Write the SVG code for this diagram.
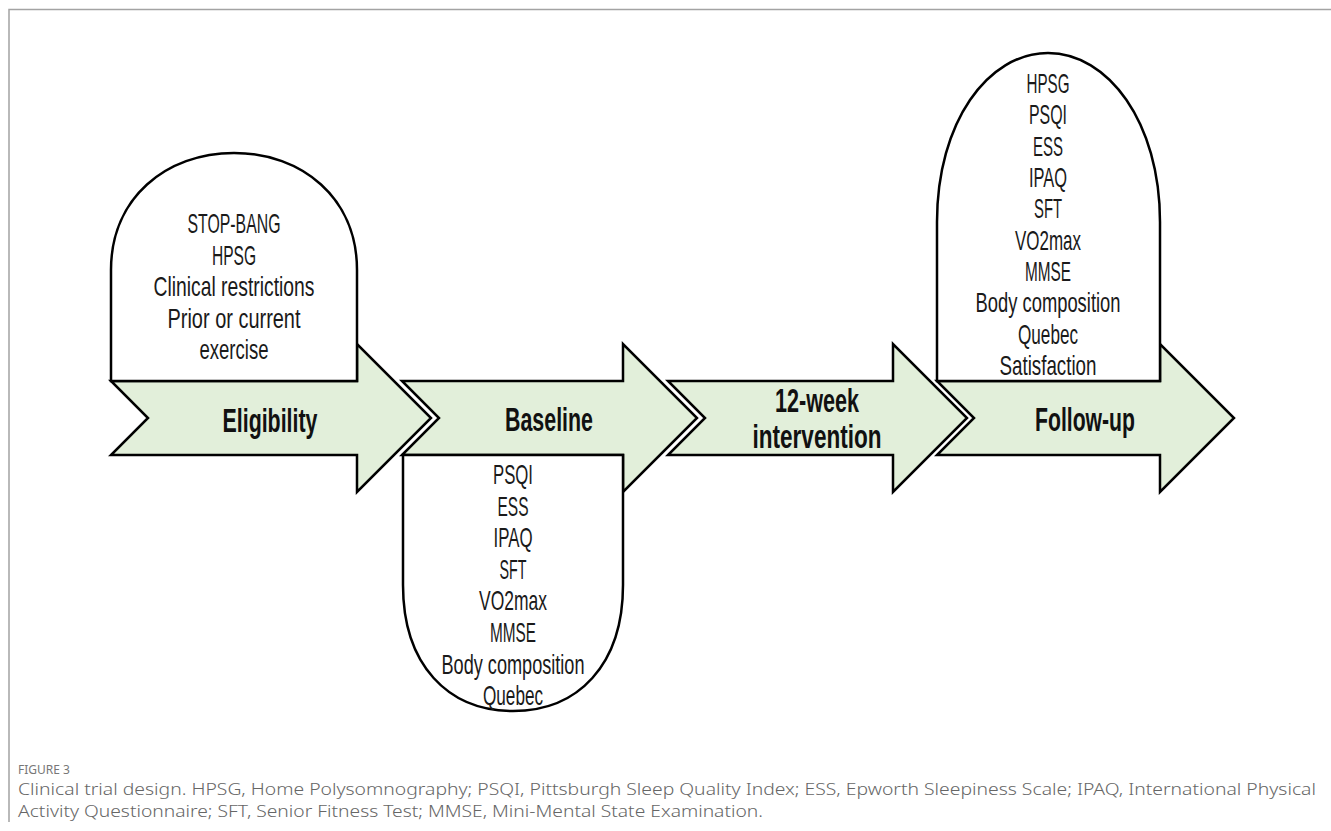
<svg xmlns="http://www.w3.org/2000/svg" width="1331" height="831" viewBox="0 0 1331 831">
<style>
.frame{fill:none;stroke:#a3a3a3;stroke-width:1.5}
.arrow{fill:#e2efda;stroke:#000;stroke-width:2.5;stroke-linejoin:miter}
.box{fill:#fff;stroke:#000;stroke-width:2.5}
.item{font-family:"Liberation Sans",Arial,sans-serif;font-size:27.5px;fill:#1a1a1a;text-anchor:middle}
.label{font-family:"Liberation Sans",Arial,sans-serif;font-size:33px;font-weight:bold;fill:#111;text-anchor:middle}
.fig{font-family:"Noto Sans","Open Sans",sans-serif;font-size:12px;fill:#777}
.cap{font-family:"Noto Sans","Open Sans",sans-serif;font-size:15.5px;font-weight:300;fill:#666}
</style>
<rect width="1331" height="831" fill="#fff"/>
<path class="frame" d="M9,822 L9,9.5 L1331,9.5"/>

<g id="connectors">
  <path id="arrow-eligibility" class="arrow" d="M111,381 L357,381 L357,344 L431,418 L357,492 L357,455 L111,455 L148,418 Z"/>
  <path id="arrow-baseline" class="arrow" d="M402,381 L623,381 L623,344 L697,418 L623,492 L623,455 L402,455 L439,418 Z"/>
  <path id="arrow-intervention" class="arrow" d="M668,381 L893,381 L893,344 L967,418 L893,492 L893,455 L668,455 L705,418 Z"/>
  <path id="arrow-followup" class="arrow" d="M937,381 L1160,381 L1160,344 L1234,418 L1160,492 L1160,455 L937,455 L974,418 Z"/>
</g>

<g id="node-eligibility">
  <path class="box" d="M111,381 L111,270 C111,198 166,153 234,153 C302,153 357,198 357,270 L357,381 Z"/>
  <text class="item" x="234" y="233" textLength="93" lengthAdjust="spacingAndGlyphs">STOP-BANG</text>
  <text class="item" x="234" y="265" textLength="44" lengthAdjust="spacingAndGlyphs">HPSG</text>
  <text class="item" x="234" y="296" textLength="161" lengthAdjust="spacingAndGlyphs">Clinical restrictions</text>
  <text class="item" x="234" y="328" textLength="133" lengthAdjust="spacingAndGlyphs">Prior or current</text>
  <text class="item" x="234" y="359" textLength="69" lengthAdjust="spacingAndGlyphs">exercise</text>
  <text class="label" x="270" y="432" textLength="95" lengthAdjust="spacingAndGlyphs">Eligibility</text>
</g>

<g id="node-baseline">
  <path class="box" d="M403,455 L623,455 L623,585 C623,665 578,711 513,711 C448,711 403,665 403,585 Z"/>
  <text class="item" x="513" y="484" textLength="40" lengthAdjust="spacingAndGlyphs">PSQI</text>
  <text class="item" x="513" y="516" textLength="31" lengthAdjust="spacingAndGlyphs">ESS</text>
  <text class="item" x="513" y="547" textLength="39" lengthAdjust="spacingAndGlyphs">IPAQ</text>
  <text class="item" x="513" y="579" textLength="27" lengthAdjust="spacingAndGlyphs">SFT</text>
  <text class="item" x="513" y="610" textLength="68" lengthAdjust="spacingAndGlyphs">VO2max</text>
  <text class="item" x="513" y="642" textLength="46" lengthAdjust="spacingAndGlyphs">MMSE</text>
  <text class="item" x="513" y="674" textLength="143" lengthAdjust="spacingAndGlyphs">Body composition</text>
  <text class="item" x="513" y="705" textLength="60" lengthAdjust="spacingAndGlyphs">Quebec</text>
  <text class="label" x="549" y="431" textLength="88" lengthAdjust="spacingAndGlyphs">Baseline</text>
</g>

<g id="node-intervention">
  <text class="label" x="817" y="412" textLength="84" lengthAdjust="spacingAndGlyphs">12-week</text>
  <text class="label" x="817" y="448" textLength="129" lengthAdjust="spacingAndGlyphs">intervention</text>
</g>

<g id="node-followup">
  <path class="box" d="M937,381 L937,222 C937,122 988,53 1048,53 C1108,53 1160,122 1160,222 L1160,381 Z"/>
  <text class="item" x="1048" y="93" textLength="43" lengthAdjust="spacingAndGlyphs">HPSG</text>
  <text class="item" x="1048" y="124" textLength="38" lengthAdjust="spacingAndGlyphs">PSQI</text>
  <text class="item" x="1048" y="156" textLength="30" lengthAdjust="spacingAndGlyphs">ESS</text>
  <text class="item" x="1048" y="187" textLength="38" lengthAdjust="spacingAndGlyphs">IPAQ</text>
  <text class="item" x="1048" y="218" textLength="28" lengthAdjust="spacingAndGlyphs">SFT</text>
  <text class="item" x="1048" y="250" textLength="66" lengthAdjust="spacingAndGlyphs">VO2max</text>
  <text class="item" x="1048" y="281" textLength="46" lengthAdjust="spacingAndGlyphs">MMSE</text>
  <text class="item" x="1048" y="312" textLength="145" lengthAdjust="spacingAndGlyphs">Body composition</text>
  <text class="item" x="1048" y="344" textLength="60" lengthAdjust="spacingAndGlyphs">Quebec</text>
  <text class="item" x="1048" y="375" textLength="97" lengthAdjust="spacingAndGlyphs">Satisfaction</text>
  <text class="label" x="1085" y="431" textLength="100" lengthAdjust="spacingAndGlyphs">Follow-up</text>
</g>

<g id="caption">
  <text class="fig" x="18" y="774">FIGURE 3</text>
  <text class="cap" x="18" y="795" textLength="1298" lengthAdjust="spacingAndGlyphs">Clinical trial design. HPSG, Home Polysomnography; PSQI, Pittsburgh Sleep Quality Index; ESS, Epworth Sleepiness Scale; IPAQ, International Physical</text>
  <text class="cap" x="18" y="817" textLength="745" lengthAdjust="spacingAndGlyphs">Activity Questionnaire; SFT, Senior Fitness Test; MMSE, Mini-Mental State Examination.</text>
</g>
</svg>
